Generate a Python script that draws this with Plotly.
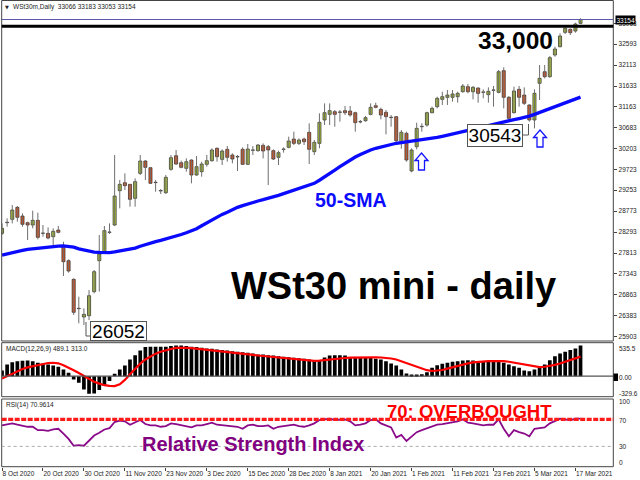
import plotly.graph_objects as go

# ---------------- data ----------------
tick_labels = ["8 Oct 2020", "20 Oct 2020", "30 Oct 2020", "11 Nov 2020", "23 Nov 2020",
               "3 Dec 2020", "15 Dec 2020", "28 Dec 2020", "8 Jan 2021", "20 Jan 2021",
               "1 Feb 2021", "11 Feb 2021", "23 Feb 2021", "5 Mar 2021", "17 Mar 2021"]
tick_bars = [0, 8, 16, 24, 32, 40, 48, 56, 64, 72, 80, 88, 96, 104, 112]

price_ticks = [25903, 26383, 26863, 27343, 27813, 28293, 28773, 29253,
               29723, 30203, 30683, 31163, 31633, 32113, 32593, 33063]

open_ = [28266, 28517, 28586, 28860, 28662, 28510, 28456, 28563, 28266, 28266,
         28190, 28342, 27961, 27641, 27214, 26552, 26353, 26384, 26933, 27641,
         27847, 28289, 28456, 29241, 29424, 29386, 29066, 29637, 29919, 29767,
         29432, 29241, 29195, 29729, 30041, 29881, 29752, 29942, 29599, 29676,
         29843, 29927, 30209, 29957, 30186, 30057, 30018, 30186, 29843, 30171,
         30156, 30277, 30247, 30156, 30003, 30186, 30232, 30422, 30323, 30422,
         30575, 30133, 30323, 30857, 30986, 31047, 31039, 31070, 31062, 31024,
         30818, 30841, 30986, 31184, 31100, 31032, 30918, 30933, 30323, 30552,
         29691, 30247, 30704, 30742, 31024, 31162, 31329, 31375, 31375, 31390,
         31504, 31619, 31504, 31588, 31497, 31436, 31542, 31489, 31984, 31375,
         31024, 31558, 31428, 31200, 30857, 31695, 31961, 31847, 32342, 32533,
         32861, 32929, 32891, 33066]
high = [28494, 28609, 28913, 28891, 28723, 28533, 28784, 28738, 28456, 28403,
        28380, 28433, 28075, 27672, 27237, 26818, 26552, 26971, 27428, 28228,
        28433, 28494, 30056, 29485, 29637, 29393, 29523, 30056, 29942, 29774,
        29485, 29279, 29599, 30056, 30171, 29927, 29980, 29957, 30033, 29904,
        30057, 30209, 30232, 30186, 30262, 30095, 30057, 30232, 30308, 30262,
        30308, 30323, 30285, 30186, 30156, 30232, 30476, 30590, 30437, 30453,
        30780, 30399, 31009, 31237, 31237, 31085, 31085, 31177, 31177, 31047,
        30857, 30948, 31237, 31253, 31139, 31085, 30971, 30948, 30628, 30590,
        30209, 30796, 30780, 31047, 31162, 31390, 31504, 31542, 31542, 31504,
        31680, 31680, 31634, 31603, 31558, 31603, 31634, 32000, 32061, 31405,
        31619, 31634, 31603, 31215, 31558, 32114, 32114, 32320, 32533, 32838,
        33028, 32952, 33081, 33183]
low = [28228, 28418, 28494, 28533, 28418, 28113, 28380, 28129, 28190, 28129,
       27999, 28266, 27291, 27367, 26399, 26209, 26171, 26285, 26894, 26933,
       27809, 28251, 28433, 28837, 29256, 28875, 28875, 29599, 29485, 29394,
       29218, 29165, 29165, 29698, 29828, 29752, 29675, 29409, 29584, 29561,
       29790, 29904, 29904, 29828, 29904, 29866, 29691, 29828, 29828, 30057,
       30133, 29980, 29371, 29942, 29828, 30110, 30209, 30285, 30285, 30285,
       29851, 30057, 30209, 30742, 30742, 30704, 30818, 30971, 30933, 30590,
       30780, 30818, 30963, 31123, 30872, 30529, 30704, 30323, 30200, 29904,
       29661, 30186, 30590, 30704, 31009, 31123, 31200, 31200, 31276, 31253,
       31481, 31466, 31329, 31253, 31352, 31253, 31162, 31466, 31123, 30872,
       31009, 31162, 31200, 30819, 30666, 31314, 31809, 31824, 32304, 32518,
       32822, 32800, 32853, 33053]
close = [28380, 28510, 28799, 28632, 28472, 28456, 28563, 28174, 28272, 28159,
         28312, 28289, 27618, 27405, 26460, 26545, 26414, 26841, 27390, 27794,
         28327, 28295, 29119, 29386, 29355, 29043, 29447, 29919, 29774, 29409,
         29425, 29235, 29546, 29995, 29851, 29774, 29904, 29599, 29790, 29851,
         29927, 30171, 30018, 30148, 30003, 29965, 30012, 29843, 30194, 30165,
         30285, 30148, 30171, 29965, 30110, 30192, 30377, 30323, 30399, 30361,
         30186, 30346, 30803, 31024, 31070, 30986, 31033, 31024, 30971, 30796,
         30812, 30910, 31146, 31146, 30971, 30933, 30912, 30384, 30575, 29942,
         30171, 30666, 30710, 31024, 31123, 31352, 31390, 31428, 31451, 31466,
         31634, 31504, 31603, 31466, 31491, 31512, 31536, 31961, 31375, 30895,
         31520, 31375, 31238, 30857, 31466, 31809, 31847, 32281, 32480, 32777,
         32952, 32853, 33051, 33154]

sma50 = [27770, 27800, 27830, 27855, 27875, 27900, 27915, 27930, 27945, 27955,
         27965, 27972, 27977, 27970, 27950, 27910, 27880, 27855, 27838, 27830,
         27825, 27825, 27840, 27860, 27880, 27900, 27930, 27970, 28010, 28045,
         28075, 28105, 28135, 28165, 28200, 28240, 28280, 28320, 28370, 28440,
         28510, 28580, 28640, 28700, 28750, 28810, 28860, 28900, 28940, 28975,
         29005, 29035, 29065, 29100, 29135, 29175, 29215, 29250, 29285, 29320,
         29370, 29410, 29480, 29550, 29630, 29710, 29790, 29870, 29945, 30010,
         30070, 30125, 30170, 30210, 30240, 30270, 30300, 30325, 30340, 30355,
         30370, 30390, 30405, 30420, 30440, 30460, 30485, 30510, 30535, 30560,
         30585, 30610, 30640, 30670, 30700, 30730, 30760, 30790, 30815, 30840,
         30865, 30890, 30915, 30945, 30985, 31030, 31075, 31115, 31155, 31200,
         31250, 31295, 31335, 31380]

macd_hist = [91, 187, 224, 240, 246, 251, 240, 214, 203, 187,
             171, 150, 107, 53, -53, -107, -214, -283, -278, -224,
             -160, -80, 37, 107, 171, 267, 336, 411, 465, 470,
             470, 470, 470, 481, 491, 491, 481, 470, 465, 454,
             443, 438, 427, 417, 411, 400, 390, 384, 374, 363,
             347, 347, 336, 331, 320, 310, 304, 294, 288, 278,
             267, 256, 245, 300, 331, 336, 336, 331, 304, 294,
             294, 294, 294, 278, 267, 240, 203, 171, 107, 43,
             27, 27, 32, 64, 134, 176, 198, 214, 230, 240,
             251, 256, 251, 240, 240, 240, 251, 251, 214, 187,
             160, 134, 91, 80, 107, 134, 187, 256, 320, 363,
             390, 417, 443, 489.1]
macd_signal = [-40, 0, 45, 85, 115, 140, 160, 180, 200, 210,
               214, 205, 175, 140, 95, 50, 0, -45, -90, -120,
               -145, -157, -160, -130, -60, 30, 120, 200, 267, 315,
               360, 390, 415, 435, 452, 455, 454, 448, 440, 432,
               424, 415, 407, 398, 390, 382, 373, 362, 350, 340,
               330, 322, 314, 305, 297, 290, 282, 274, 267, 260,
               252, 245, 248, 258, 268, 276, 283, 290, 295, 298,
               300, 303, 304, 302, 298, 292, 282, 267, 240, 214,
               185, 155, 125, 95, 82, 85, 98, 120, 144, 165,
               187, 205, 220, 230, 236, 240, 241, 242, 240, 230,
               215, 203, 188, 165, 150, 144, 150, 160, 180, 203,
               228, 256, 290, 313.0]

rsi14 = [61, 63, 64, 62, 60, 59, 59, 54, 54, 53,
         55, 56, 49, 41, 31, 32, 31, 39, 46, 50,
         55, 57, 66, 68, 67, 62, 66, 69, 63, 61,
         61, 59, 60, 64, 63, 61, 60, 58, 61, 61,
         63, 65, 62, 61, 60, 60, 59, 56, 61, 62,
         60, 60, 61, 56, 59, 60, 61, 62, 60, 59,
         61, 64, 69, 70, 71, 69, 70, 70, 67, 61,
         62, 64, 69, 70, 64, 61, 58, 43, 47, 38,
         44, 51, 54, 57, 60, 62, 63, 64, 65, 67,
         70, 65, 64, 62, 61, 62, 62, 70, 56, 45,
         54, 51, 49, 45, 56, 57, 58, 64, 67, 71,
         70, 68.5, 71, 70.9614]

# ---------------- helpers ----------------
W, H = 640, 480
def px(x):
    return x / W
def py(y):
    return 1 - y / H

n = len(close)
idx = list(range(n))
bull_x, bull_b, bull_h = [], [], []
bear_x, bear_b, bear_h = [], [], []
for i in idx:
    o, c = open_[i], close[i]
    hgt = max(abs(c - o), 8)
    if c >= o:
        bull_x.append(i); bull_b.append(min(o, c)); bull_h.append(hgt)
    else:
        bear_x.append(i); bear_b.append(min(o, c)); bear_h.append(hgt)

wx, wy = [], []
for i in idx:
    wx += [i, i, None]
    wy += [low[i], high[i], None]

fig = go.Figure()
fig.add_trace(go.Scatter(x=wx, y=wy, mode="lines", line=dict(color="#6e6e6e", width=1),
                         hoverinfo="skip", yaxis="y"))
fig.add_trace(go.Bar(x=bull_x, y=bull_h, base=bull_b, width=0.6, yaxis="y",
                     marker=dict(color="#B8D437", line=dict(color="#222", width=0.7)),
                     hoverinfo="skip"))
fig.add_trace(go.Bar(x=bear_x, y=bear_h, base=bear_b, width=0.6, yaxis="y",
                     marker=dict(color="#EE5A22", line=dict(color="#222", width=0.7)),
                     hoverinfo="skip"))
fig.add_trace(go.Scatter(x=idx, y=sma50, mode="lines", line=dict(color="#0a0aff", width=3.3),
                         hoverinfo="skip", yaxis="y"))
fig.add_trace(go.Bar(x=idx, y=macd_hist, width=0.72, yaxis="y2",
                     marker=dict(color="black", line=dict(width=0)), hoverinfo="skip"))
fig.add_trace(go.Scatter(x=idx, y=macd_signal, mode="lines", line=dict(color="#ff0000", width=2.2),
                         hoverinfo="skip", yaxis="y2"))
fig.add_trace(go.Scatter(x=idx, y=rsi14, mode="lines", line=dict(color="#8a0a8a", width=1.8),
                         hoverinfo="skip", yaxis="y3"))

small = dict(family="Liberation Sans, Arial, sans-serif", size=6.5, color="#222")
bold = "Liberation Sans, Arial, sans-serif"

xdom = [px(1.7), px(613.3)]
shapes = []
# pane frames
for (t, b) in [(0.5, 341), (342.7, 396.7), (399, 466.7)]:
    shapes.append(dict(type="rect", xref="paper", yref="paper", x0=px(1.7), x1=px(613.3),
                       y0=py(b), y1=py(t), line=dict(color="#444", width=1), layer="above"))
# bid line and 33,000 line
shapes.append(dict(type="line", xref="paper", yref="y", x0=xdom[0], x1=xdom[1],
                   y0=close[-1], y1=close[-1], line=dict(color="#5a5aaa", width=1)))
shapes.append(dict(type="line", xref="paper", yref="y", x0=xdom[0], x1=xdom[1],
                   y0=33000, y1=33000, line=dict(color="black", width=3)))
# MACD zero line
shapes.append(dict(type="line", xref="paper", yref="y2", x0=xdom[0], x1=xdom[1],
                   y0=0, y1=0, line=dict(color="#555", width=1.2)))
# RSI levels
shapes.append(dict(type="line", xref="paper", yref="y3", x0=xdom[0], x1=xdom[1],
                   y0=30, y1=30, line=dict(color="#aaa", width=1, dash="3px,3px")))
shapes.append(dict(type="line", xref="paper", yref="y3", x0=xdom[0], x1=xdom[1],
                   y0=70, y1=70, line=dict(color="#ff1a1a", width=3.2, dash="5px,1.5px")))
# hollow arrows
def arrow(cx, top, bottom, hw=6.5, sw=3.0, hh=7.5):
    pts = [(cx, top), (cx + hw, top + hh), (cx + sw, top + hh), (cx + sw, bottom),
           (cx - sw, bottom), (cx - sw, top + hh), (cx - hw, top + hh)]
    p = "M " + " L ".join(f"{px(a):.5f},{py(b):.5f}" for a, b in pts) + " Z"
    return dict(type="path", xref="paper", yref="paper", path=p,
                line=dict(color="#1515ff", width=1.3), fillcolor="white")
shapes.append(arrow(421.5, 153, 170))
shapes.append(arrow(540, 130, 147))
# label connectors
def poly(pts):
    return dict(type="path", xref="paper", yref="paper",
                path="M " + " L ".join(f"{px(a):.5f},{py(b):.5f}" for a, b in pts),
                line=dict(color="#555", width=1))
shapes.append(poly([(86, 322), (86, 336), (91, 336)]))
shapes.append(poly([(523, 135), (528.5, 135), (528.5, 124)]))
# small marker near 0.00
shapes.append(dict(type="rect", xref="paper", yref="paper", x0=px(613.5), x1=px(618),
                   y0=py(381), y1=py(373.5), fillcolor="black", line=dict(width=0)))

ann = []
def txt(x, y, s, font, xa="left", ya="middle", **kw):
    d = dict(x=px(x), y=py(y), xref="paper", yref="paper", text=s, showarrow=False,
             xanchor=xa, yanchor=ya, font=font)
    d.update(kw)
    ann.append(d)

txt(3, 7, "▼", dict(family="DejaVu Sans", size=5, color="#222"))
txt(11, 7, "WSt30m,Daily\u00a0\u00a0" + f"{open_[-1]} {high[-1]} {low[-1]} {close[-1]}", small)
txt(515, 40, "33,000", dict(family=bold, size=24.5, color="black", weight="bold"), xa="center")
txt(557, 286, "WSt30 mini - daily", dict(family=bold, size=38, color="black", weight="bold"),
    xa="right", borderpad=0)
txt(351, 200, "50-SMA", dict(family=bold, size=19.5, color="#0a0aff", weight="bold"), xa="center")
txt(118.5, 331, "26052", dict(family="Liberation Sans", size=19, color="black"), xa="center",
    bordercolor="#555", borderwidth=1, borderpad=0, bgcolor="white", width=55, height=18)
txt(495, 135, "30543", dict(family="Liberation Sans", size=19, color="black"), xa="center",
    bordercolor="#555", borderwidth=1, borderpad=0, bgcolor="white", width=54, height=21)
txt(469, 411.5, "70: OVERBOUGHT", dict(family=bold, size=18.5, color="#ff0000", weight="bold"),
    xa="center")
txt(252.5, 444, "Relative Strength Index", dict(family=bold, size=20, color="#800080", weight="bold"),
    xa="center")
txt(4, 349, f"MACD(12,26,9) {macd_hist[-1]:.1f} {macd_signal[-1]:.1f}", small)
txt(4, 405, f"RSI(14) {rsi14[-1]:.4f}", small)
# right-axis labels for sub panes
for y, s in [(348.5, "535.5"), (377.7, "0.00"), (393.3, "-329.6"),
             (401.5, "100"), (420.5, "70"), (446.7, "30"), (462.7, "0")]:
    txt(617, y, s, small)
# bid price box
txt(614.5, 20, f"{close[-1]}", dict(family="Liberation Sans", size=6.5, color="white"),
    bgcolor="black", borderpad=0.5)

fig.update_layout(
    width=W, height=H, margin=dict(l=0, r=0, t=0, b=0),
    paper_bgcolor="white", plot_bgcolor="white", showlegend=False, barmode="overlay",
    xaxis=dict(domain=xdom, range=[-0.06, 119.4], anchor="y3", showgrid=False, zeroline=False,
               tickmode="array", tickvals=tick_bars, ticktext=tick_labels, tickangle=0,
               ticks="outside", ticklen=3, tickcolor="#444", tickfont=small,
               ticklabelposition="outside right", showline=False, automargin=False),
    yaxis=dict(domain=[py(341), 1], range=[25805, 33600], side="right", anchor="x",
               showgrid=False, zeroline=False, tickmode="array", tickvals=price_ticks,
               ticktext=[str(v) for v in price_ticks], ticks="outside", ticklen=3,
               tickcolor="#444", tickfont=small, automargin=False),
    yaxis2=dict(domain=[py(396.7), py(342.7)], range=[-329.6, 535.5], side="right", anchor="x",
                showgrid=False, zeroline=False, showticklabels=False, ticks="", automargin=False),
    yaxis3=dict(domain=[py(466.7), py(399)], range=[0, 100], side="right", anchor="x",
                showgrid=False, zeroline=False, showticklabels=False, ticks="", automargin=False),
    shapes=shapes, annotations=ann,
)

fig.write_html("out.html", config={"displayModeBar": False},
               post_script="document.body.style.margin='0';document.body.style.padding='0';")
